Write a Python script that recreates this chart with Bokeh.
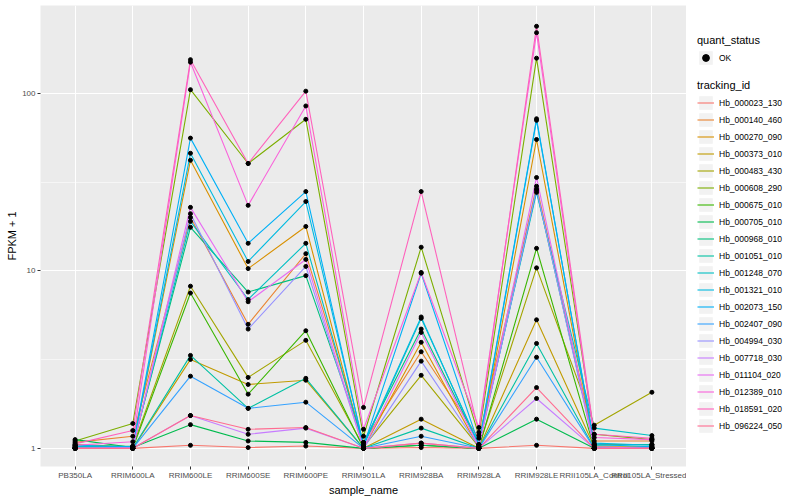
from bokeh.plotting import figure
from bokeh.models import (FactorRange, Range1d, FixedTicker, Legend, LegendItem,
                          ColumnDataSource)
from bokeh.layouts import row
from bokeh.embed import file_html
from bokeh.resources import INLINE

samples = ["PB350LA", "RRIM600LA", "RRIM600LE", "RRIM600SE", "RRIM600PE",
           "RRIM901LA", "RRIM928BA", "RRIM928LA", "RRIM928LE",
           "RRII105LA_Control", "RRII105LA_Stressed"]

tracking_ids = ["Hb_000023_130", "Hb_000140_460", "Hb_000270_090", "Hb_000373_010",
                "Hb_000483_430", "Hb_000608_290", "Hb_000675_010", "Hb_000705_010",
                "Hb_000968_010", "Hb_001051_010", "Hb_001248_070", "Hb_001321_010",
                "Hb_002073_150", "Hb_002407_090", "Hb_004994_030", "Hb_007718_030",
                "Hb_011104_020", "Hb_012389_010", "Hb_018591_020", "Hb_096224_050"]

quant_status = ["OK"]

# FPKM + 1 per sample (order as in `samples`)
hb_000023_130 = [1.01, 1.00, 1.04, 1.01, 1.03, 1.00, 1.01, 1.00, 1.04, 1.00, 1.01]
hb_000140_460 = [1.08, 1.17, 20.0, 5.0, 12.5, 1.08, 3.5, 1.14, 30.0, 1.10, 1.10]
hb_000270_090 = [1.00, 1.02, 42.0, 10.3, 17.8, 1.00, 3.96, 1.00, 55.0, 1.05, 1.05]
hb_000373_010 = [1.00, 1.00, 3.17, 2.29, 2.42, 1.00, 1.46, 1.00, 5.3, 1.02, 1.02]
hb_000483_430 = [1.05, 1.02, 8.2, 2.51, 4.06, 1.02, 2.58, 1.02, 10.4, 1.35, 2.07]
hb_000608_290 = [1.10, 1.38, 105.0, 40.3, 71.5, 1.17, 13.6, 1.18, 158.0, 1.20, 1.12]
hb_000675_010 = [1.00, 1.00, 7.5, 2.02, 4.6, 1.00, 1.04, 1.00, 13.4, 1.00, 1.00]
hb_000705_010 = [1.12, 1.01, 1.36, 1.10, 1.08, 1.00, 1.04, 1.00, 1.46, 1.00, 1.00]
hb_000968_010 = [1.02, 1.03, 17.6, 7.6, 9.4, 1.08, 4.7, 1.05, 28.5, 1.04, 1.05]
hb_001051_010 = [1.00, 1.00, 3.34, 1.68, 2.48, 1.00, 1.30, 1.00, 3.9, 1.00, 1.00]
hb_001248_070 = [1.03, 1.02, 19.0, 6.9, 14.3, 1.03, 5.4, 1.05, 27.7, 1.30, 1.18]
hb_001321_010 = [1.02, 1.02, 46.0, 11.3, 24.6, 1.05, 5.5, 1.03, 70.5, 1.07, 1.04]
hb_002073_150 = [1.04, 1.02, 56.0, 14.3, 28.0, 1.03, 9.7, 1.05, 72.0, 1.05, 1.02]
hb_002407_090 = [1.00, 1.00, 2.55, 1.68, 1.82, 1.00, 1.17, 1.00, 3.26, 1.00, 1.00]
hb_004994_030 = [1.00, 1.01, 21.0, 4.7, 10.6, 1.00, 3.1, 1.02, 29.0, 1.00, 1.00]
hb_007718_030 = [1.00, 1.00, 1.53, 1.20, 1.30, 1.00, 1.07, 1.00, 1.91, 1.00, 1.00]
hb_011104_020 = [1.00, 1.00, 22.8, 6.7, 11.6, 1.00, 4.5, 1.02, 33.6, 1.02, 1.00]
hb_012389_010 = [1.04, 1.09, 150.0, 23.4, 85.0, 1.28, 9.8, 1.31, 220.0, 1.15, 1.12]
hb_018591_020 = [1.06, 1.26, 155.0, 40.3, 103.0, 1.70, 28.0, 1.23, 239.0, 1.20, 1.14]
hb_096224_050 = [1.00, 1.00, 1.53, 1.28, 1.31, 1.00, 1.07, 1.00, 2.2, 1.00, 1.00]

series_values = [hb_000023_130, hb_000140_460, hb_000270_090, hb_000373_010,
                 hb_000483_430, hb_000608_290, hb_000675_010, hb_000705_010,
                 hb_000968_010, hb_001051_010, hb_001248_070, hb_001321_010,
                 hb_002073_150, hb_002407_090, hb_004994_030, hb_007718_030,
                 hb_011104_020, hb_012389_010, hb_018591_020, hb_096224_050]

colors = ["#F8766D", "#EA8331", "#D89000", "#C09B00", "#A3A500", "#7CAE00",
          "#39B600", "#00BB4E", "#00BF7D", "#00C1A3", "#00BFC4", "#00BAE0",
          "#00B0F6", "#35A2FF", "#9590FF", "#C77CFF", "#E76BF3", "#FA62DB",
          "#FF62BC", "#FF6C91"]

FONT = "Liberation Sans"
H = 498
W_MAIN = 686

p = figure(x_range=FactorRange(factors=samples, range_padding=0.2 / 11),
           y_range=Range1d(0.79, 313), y_axis_type="log",
           width=W_MAIN, height=H,
           min_border_left=40, min_border_right=0, min_border_top=5, min_border_bottom=10,
           output_backend="svg", toolbar_location=None)

p.background_fill_color = "#EBEBEB"
p.border_fill_color = "white"
p.outline_line_color = None

p.xgrid.grid_line_color = "white"
p.xgrid.grid_line_width = 1.1
p.ygrid.grid_line_color = "white"
p.ygrid.grid_line_width = 1.1
p.ygrid.minor_grid_line_color = "white"
p.ygrid.minor_grid_line_width = 0.55

p.yaxis.ticker = FixedTicker(ticks=[1, 10, 100], minor_ticks=[3.1623, 31.623])
p.yaxis.major_label_overrides = {1: "1", 10: "10", 100: "100"}

for ax in (p.xaxis[0], p.yaxis[0]):
    ax.axis_line_color = None
    ax.major_tick_line_color = "#333333"
    ax.major_tick_out = 3
    ax.major_tick_in = 0
    ax.minor_tick_line_color = None
    ax.major_label_text_font = FONT
    ax.major_label_text_font_size = "8px"
    ax.major_label_text_color = "#4D4D4D"
    ax.major_label_standoff = 1
    ax.axis_label_text_font = FONT
    ax.axis_label_text_font_size = "11px"
    ax.axis_label_text_font_style = "normal"
    ax.axis_label_text_color = "black"
    ax.axis_label_standoff = 1

p.xaxis.axis_label = "sample_name"
p.yaxis.axis_label = "FPKM + 1"

for vals, col in zip(series_values, colors):
    p.line(x=samples, y=vals, line_color=col, line_width=1.1)

px, py = [], []
for vals in series_values:
    px.extend(samples)
    py.extend(vals)
p.scatter(x="x", y="y", source=ColumnDataSource(dict(x=px, y=py)),
          size=4, fill_color="black", line_color="black")

# ---- legend panel (separate figure; key renderers sit outside its visible range) ----
lg = figure(width=798 - W_MAIN, height=H, x_range=Range1d(0, 1), y_range=Range1d(0, 1),
            x_axis_location=None, y_axis_location=None,
            min_border=0, output_backend="svg", toolbar_location=None)
lg.grid.visible = False
lg.outline_line_color = None
lg.background_fill_color = "white"

key_bg = lg.quad(left=[5], right=[6], top=[6], bottom=[5], fill_color="#F2F2F2", line_color=None)
key_pt = lg.scatter(x=[5], y=[5], size=4, fill_color="black", line_color="black")
key_lines = [lg.line(x=[5, 6], y=[5, 6], line_color=col, line_width=1.1) for col in colors]

common = dict(padding=0, margin=0, spacing=0, glyph_width=17, glyph_height=17,
              label_height=17, label_standoff=5, border_line_color=None,
              background_fill_alpha=0, label_text_font=FONT,
              label_text_font_size="8.5px", label_text_color="black",
              title_text_font=FONT, title_text_color="black",
              title_text_font_size="11px", title_text_font_style="normal",
              title_standoff=3)

leg1 = Legend(items=[LegendItem(label=q, renderers=[key_bg, key_pt]) for q in quant_status],
              title="quant_status", location=(11, 400), **common)
leg2 = Legend(items=[LegendItem(label=tid, renderers=[key_bg, r])
                     for tid, r in zip(tracking_ids, key_lines)],
              title="tracking_id", location=(11, 32), **common)
lg.add_layout(leg1, "center")
lg.add_layout(leg2, "center")

layout = row(p, lg, spacing=0)
open("out.html", "w").write(file_html(layout, INLINE))
